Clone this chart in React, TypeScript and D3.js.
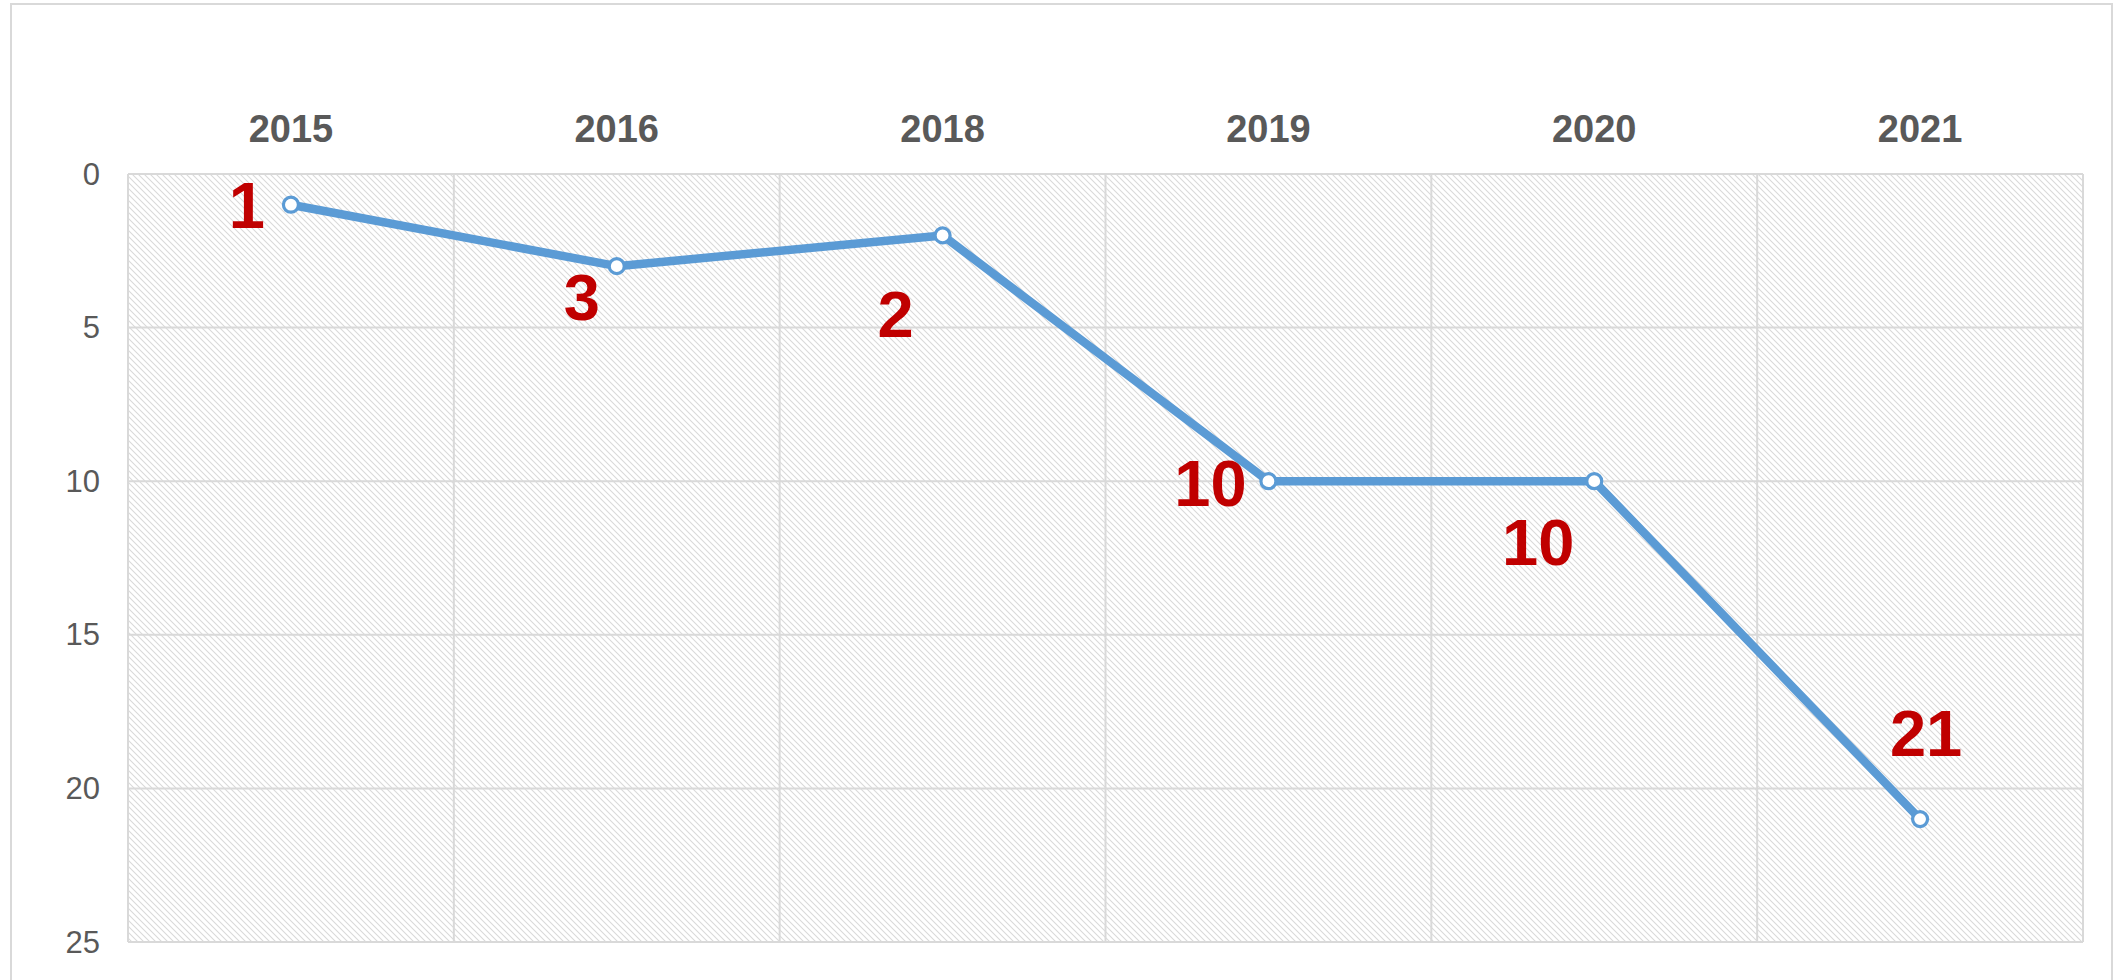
import React from "react";
import * as d3 from "d3";

const categories = ["2015", "2016", "2018", "2019", "2020", "2021"];
const ranks = [1, 3, 2, 10, 10, 21];
const yTicks = [0, 5, 10, 15, 20, 25];
// manual label offsets (px) relative to each point
const labelDx = [-44, -35, -47, -58, -56, 6];
const labelDy = [1, 31, 79, 2, 61, -86];

const W = 2113;
const H = 980;
const plot = { left: 128, right: 2083, top: 174, bottom: 942 };
const FONT = "Arial, 'Liberation Sans', sans-serif";

export default function App() {
  const x = d3.scaleBand<string>().domain(categories).range([plot.left, plot.right]);
  const y = d3.scaleLinear().domain([0, 25]).range([plot.top, plot.bottom]);
  const cx = (c: string) => (x(c) as number) + x.bandwidth() / 2;
  const line = d3
    .line<number>()
    .x((_, i) => cx(categories[i]))
    .y((d) => y(d));

  const boundaries = categories.map((c) => x(c) as number).concat([plot.right]);

  return (
    <svg
      width={W}
      height={H}
      style={{ position: "absolute", left: 0, top: 0, background: "#fff" }}
    >
      <defs>
        <pattern id="hatch" patternUnits="userSpaceOnUse" width="6" height="6">
          <rect width="6" height="6" fill="#ffffff" />
          <path d="M0,0 L6,6 M-3,3 L3,9 M3,-3 L9,3" stroke="#d9d9d9" strokeWidth="1.05" />
        </pattern>
      </defs>
      <rect x={11} y={4} width={2101} height={1010} fill="#fff" stroke="#d9d9d9" strokeWidth={2} />
      <rect
        x={plot.left}
        y={plot.top}
        width={plot.right - plot.left}
        height={plot.bottom - plot.top}
        fill="url(#hatch)"
      />
      {yTicks.map((t) => (
        <line key={"h" + t} x1={plot.left} x2={plot.right} y1={y(t)} y2={y(t)} stroke="#d9d9d9" strokeWidth={2} />
      ))}
      {boundaries.map((b, i) => (
        <line key={"v" + i} x1={b} x2={b} y1={plot.top} y2={plot.bottom} stroke="#d9d9d9" strokeWidth={2} />
      ))}
      {yTicks.map((t) => (
        <text
          key={"yt" + t}
          x={100}
          y={y(t)}
          textAnchor="end"
          dominantBaseline="central"
          fontFamily={FONT}
          fontSize={31}
          fill="#595959"
        >
          {t}
        </text>
      ))}
      {categories.map((c) => (
        <text
          key={"c" + c}
          x={cx(c)}
          y={129}
          textAnchor="middle"
          dominantBaseline="central"
          fontFamily={FONT}
          fontSize={38}
          fontWeight="bold"
          fill="#595959"
        >
          {c}
        </text>
      ))}
      <path d={line(ranks) || ""} fill="none" stroke="#5b9bd5" strokeWidth={8.5} strokeLinejoin="round" />
      {ranks.map((v, i) => (
        <circle key={"m" + i} cx={cx(categories[i])} cy={y(v)} r={7.5} fill="#fff" stroke="#5b9bd5" strokeWidth={3.2} />
      ))}
      {ranks.map((v, i) => (
        <text
          key={"l" + i}
          x={cx(categories[i]) + labelDx[i]}
          y={y(v) + labelDy[i]}
          textAnchor="middle"
          dominantBaseline="central"
          fontFamily={FONT}
          fontSize={65}
          fontWeight="bold"
          fill="#c00000"
        >
          {v}
        </text>
      ))}
    </svg>
  );
}
